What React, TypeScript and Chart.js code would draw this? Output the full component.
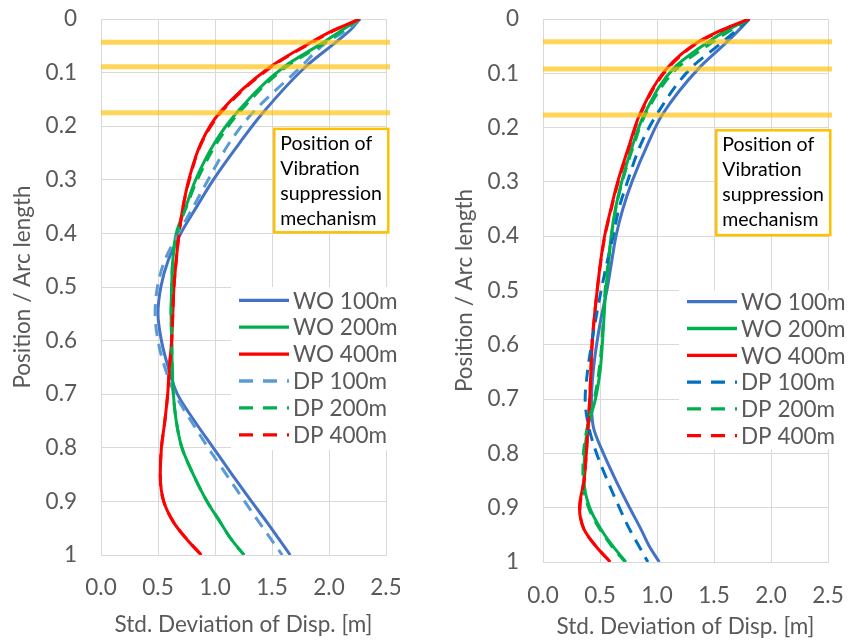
import React, { useEffect, useRef } from 'react';
import { Chart, registerables } from 'chart.js';

Chart.register(...registerables);

// ---------- data ----------
const POSITIONS = [0, 0.02, 0.045, 0.09, 0.175, 0.23, 0.3, 0.35, 0.4, 0.45, 0.5, 0.55, 0.6, 0.65, 0.7, 0.75, 0.8, 0.85, 0.9, 0.94, 0.97, 1];

const SERIES_LABELS = ['WO 100m', 'WO 200m', 'WO 400m', 'DP 100m', 'DP 200m', 'DP 400m'];

// Left chart
const LEFT_WO100 = [2.27, 2.19, 2.05, 1.79, 1.42, 1.22, 0.985, 0.84, 0.7, 0.59, 0.525, 0.5, 0.53, 0.59, 0.67, 0.82, 0.985, 1.15, 1.32, 1.46, 1.56, 1.66];
const LEFT_WO200 = [2.27, 2.12, 1.94, 1.6, 1.19, 1.0, 0.83, 0.745, 0.66, 0.63, 0.62, 0.615, 0.62, 0.625, 0.635, 0.66, 0.71, 0.81, 0.93, 1.05, 1.14, 1.255];
const LEFT_WO400 = [2.27, 2.05, 1.83, 1.48, 1.04, 0.88, 0.77, 0.72, 0.685, 0.66, 0.64, 0.63, 0.62, 0.6, 0.585, 0.56, 0.53, 0.52, 0.55, 0.64, 0.75, 0.88];
const LEFT_DP100 = [2.27, 2.16, 1.97, 1.75, 1.33, 1.13, 0.94, 0.81, 0.68, 0.56, 0.495, 0.475, 0.5, 0.56, 0.65, 0.79, 0.94, 1.1, 1.26, 1.39, 1.49, 1.59];
const LEFT_DP200 = [2.27, 2.13, 1.96, 1.62, 1.21, 1.02, 0.845, 0.75, 0.665, 0.63, 0.62, 0.615, 0.62, 0.625, 0.635, 0.66, 0.71, 0.81, 0.93, 1.05, 1.14, 1.255];
const LEFT_DP400 = [2.27, 2.06, 1.84, 1.49, 1.05, 0.885, 0.775, 0.72, 0.685, 0.66, 0.64, 0.63, 0.62, 0.6, 0.585, 0.56, 0.53, 0.52, 0.55, 0.64, 0.75, 0.88];

// Right chart
const RIGHT_WO100 = [1.81, 1.72, 1.6, 1.37, 1.05, 0.92, 0.78, 0.7, 0.64, 0.6, 0.56, 0.51, 0.47, 0.44, 0.425, 0.44, 0.53, 0.64, 0.76, 0.86, 0.93, 1.02];
const RIGHT_WO200 = [1.81, 1.62, 1.43, 1.15, 0.89, 0.79, 0.69, 0.635, 0.598, 0.575, 0.55, 0.535, 0.52, 0.5, 0.46, 0.395, 0.366, 0.36, 0.41, 0.51, 0.61, 0.726];
const RIGHT_WO400 = [1.81, 1.57, 1.34, 1.09, 0.85, 0.76, 0.655, 0.595, 0.54, 0.503, 0.475, 0.45, 0.43, 0.42, 0.41, 0.395, 0.38, 0.36, 0.32, 0.36, 0.46, 0.59];
const RIGHT_DP100 = [1.81, 1.7, 1.56, 1.3, 1.0, 0.86, 0.74, 0.665, 0.615, 0.56, 0.51, 0.465, 0.425, 0.39, 0.37, 0.4, 0.47, 0.565, 0.67, 0.76, 0.84, 0.92];
const RIGHT_DP200 = [1.81, 1.65, 1.47, 1.18, 0.9, 0.8, 0.695, 0.638, 0.6, 0.57, 0.545, 0.53, 0.515, 0.49, 0.45, 0.39, 0.355, 0.35, 0.4, 0.5, 0.6, 0.72];
const RIGHT_DP400 = [1.81, 1.58, 1.35, 1.1, 0.855, 0.765, 0.66, 0.598, 0.543, 0.505, 0.475, 0.45, 0.43, 0.42, 0.41, 0.395, 0.38, 0.36, 0.325, 0.36, 0.46, 0.59];

// Positions of the vibration suppression mechanism (Position / Arc length)
const MECH_LEFT = [0.0436, 0.089, 0.175];
const MECH_RIGHT = [0.042, 0.092, 0.177];

const NOTE_LINES = ['Position of', 'Vibration', 'suppression', 'mechanism'];

const X_TICKS = [0, 0.5, 1, 1.5, 2, 2.5];
const Y_TICKS = [0, 0.1, 0.2, 0.3, 0.4, 0.5, 0.6, 0.7, 0.8, 0.9, 1];

const X_TITLE = 'Std. Deviation of Disp. [m]';
const Y_TITLE = 'Position / Arc length';

// ---------- styling ----------
const FONT = 'Lato';
const TEXT = '#595959';
const GRID = '#D9D9D9';

type Panel = {
  series: number[][];
  colors: string[];
  mech: number[];
  canvasW: number;
  left: number;
  yAxisW: number;
  xAxisH: number;
  topPad: number;
  rightPad: number;
  yTitlePad: number;
  xTitlePad: number;
  xTickPad: number;
  legendW: number;
  legendTopPx: number;
  legendFirst: number;
  legendStep: number;
  noteFirst: number;
};

const LEFT_PANEL: Panel = {
  series: [LEFT_WO100, LEFT_WO200, LEFT_WO400, LEFT_DP100, LEFT_DP200, LEFT_DP400],
  colors: ['#4472C4', '#00B050', '#FF0000', '#5B9BD5', '#00B050', '#FF0000'],
  mech: MECH_LEFT,
  canvasW: 400,
  left: 0,
  yAxisW: 101,
  xAxisH: 87,
  topPad: 19,
  rightPad: 14,
  yTitlePad: 9,
  xTitlePad: 4,
  xTickPad: 19,
  legendW: 155,
  legendTopPx: 287,
  legendFirst: 13.3,
  legendStep: 26.9,
  noteFirst: 15,
};

const RIGHT_PANEL: Panel = {
  series: [RIGHT_WO100, RIGHT_WO200, RIGHT_WO400, RIGHT_DP100, RIGHT_DP200, RIGHT_DP400],
  colors: ['#4472C4', '#00B050', '#FF0000', '#0070C0', '#00B050', '#FF0000'],
  mech: MECH_RIGHT,
  canvasW: 422,
  left: 430,
  yAxisW: 113,
  xAxisH: 80,
  topPad: 19,
  rightPad: 24,
  yTitlePad: 21,
  xTitlePad: 2,
  xTickPad: 20,
  legendW: 149,
  legendTopPx: 290,
  legendFirst: 11.7,
  legendStep: 26.8,
  noteFirst: 14,
};

const NOTE_X = [1.52, 2.52];
const NOTE_Y = [0.205, 0.398];

function overlayPlugin(panel: Panel) {
  return {
    id: 'overlay',
    afterDraw(chart: any) {
      const { ctx, chartArea: a, scales } = chart;
      const xs = scales.x;
      const ys = scales.y;
      ctx.save();

      // mechanism lines
      ctx.strokeStyle = 'rgba(255, 192, 0, 0.65)';
      ctx.lineWidth = 5;
      panel.mech.forEach((p) => {
        const py = ys.getPixelForValue(p);
        ctx.beginPath();
        ctx.moveTo(a.left, py);
        ctx.lineTo(a.right + 4, py);
        ctx.stroke();
      });

      // note box
      const bx0 = xs.getPixelForValue(NOTE_X[0]);
      const bx1 = xs.getPixelForValue(NOTE_X[1]);
      const by0 = ys.getPixelForValue(NOTE_Y[0]);
      const by1 = ys.getPixelForValue(NOTE_Y[1]);
      ctx.fillStyle = '#FFFFFF';
      ctx.fillRect(bx0, by0, bx1 - bx0, by1 - by0);
      ctx.strokeStyle = '#FFC000';
      ctx.lineWidth = 2.5;
      ctx.strokeRect(bx0, by0, bx1 - bx0, by1 - by0);
      ctx.fillStyle = '#000000';
      ctx.font = `19.5px ${FONT}`;
      ctx.textBaseline = 'middle';
      ctx.textAlign = 'left';
      NOTE_LINES.forEach((t, i) => {
        ctx.fillText(t, bx0 + 6, by0 + panel.noteFirst + i * 25);
      });

      // legend
      const lx = a.right - panel.legendW;
      const ly = panel.legendTopPx;
      const ds = chart.data.datasets;
      const lh = panel.legendFirst * 2 + panel.legendStep * (ds.length - 1) + 2;
      ctx.fillStyle = '#FFFFFF';
      ctx.fillRect(lx, ly, a.right - lx + 1, lh);
      ctx.font = `22.5px ${FONT}`;
      ds.forEach((d: any, i: number) => {
        const cy = ly + panel.legendFirst + i * panel.legendStep;
        ctx.save();
        ctx.strokeStyle = d.borderColor;
        ctx.lineWidth = 3.3;
        ctx.setLineDash(d.borderDash && d.borderDash.length ? [14, 10] : []);
        ctx.beginPath();
        ctx.moveTo(lx + 8, cy);
        ctx.lineTo(lx + 58, cy);
        ctx.stroke();
        ctx.restore();
        ctx.fillStyle = TEXT;
        ctx.fillText(d.label, lx + 62, cy + 1);
      });
      ctx.restore();
    },
  };
}

function makeConfig(panel: Panel): any {
  const datasets = SERIES_LABELS.map((label, i) => ({
    label,
    data: POSITIONS.map((p, k) => ({ x: panel.series[i][k], y: p })),
    borderColor: panel.colors[i],
    backgroundColor: panel.colors[i],
    borderWidth: 3,
    borderDash: i >= 3 ? [12, 8] : [],
    pointRadius: 0,
    pointHoverRadius: 0,
    fill: false,
    cubicInterpolationMode: 'monotone',
    indexAxis: 'y',
    order: SERIES_LABELS.length - i,
  }));

  return {
    type: 'line',
    data: { datasets },
    options: {
      indexAxis: 'y',
      responsive: false,
      maintainAspectRatio: false,
      animation: false,
      devicePixelRatio: 1,
      events: [],
      layout: { padding: 0 },
      plugins: { legend: { display: false }, tooltip: { enabled: false } },
      scales: {
        x: {
          type: 'linear',
          position: 'bottom',
          min: X_TICKS[0],
          max: X_TICKS[X_TICKS.length - 1],
          afterBuildTicks: (s: any) => {
            s.ticks = X_TICKS.map((v) => ({ value: v }));
          },
          afterFit: (s: any) => {
            s.height = panel.xAxisH;
            s.paddingLeft = 0;
            s.paddingRight = panel.rightPad;
          },
          ticks: {
            color: TEXT,
            font: { family: FONT, size: 22.5 },
            padding: panel.xTickPad,
            maxRotation: 0,
            callback: (v: any) => Number(v).toFixed(1),
          },
          grid: { color: GRID, lineWidth: 1, drawTicks: false },
          border: { color: GRID, width: 1 },
          title: {
            display: true,
            text: X_TITLE,
            color: TEXT,
            font: { family: FONT, size: 22.5 },
            padding: { top: 0, bottom: panel.xTitlePad },
          },
        },
        y: {
          type: 'linear',
          position: 'left',
          reverse: true,
          min: Y_TICKS[0],
          max: Y_TICKS[Y_TICKS.length - 1],
          afterBuildTicks: (s: any) => {
            s.ticks = Y_TICKS.map((v) => ({ value: v }));
          },
          afterFit: (s: any) => {
            s.width = panel.yAxisW;
            s.paddingTop = panel.topPad;
            s.paddingBottom = 0;
          },
          ticks: {
            color: TEXT,
            font: { family: FONT, size: 22.5 },
            padding: 24,
            callback: (v: any) => String(parseFloat(Number(v).toFixed(1))),
          },
          grid: { color: GRID, lineWidth: 1, drawTicks: false },
          border: { color: GRID, width: 1 },
          title: {
            display: true,
            text: Y_TITLE,
            color: TEXT,
            font: { family: FONT, size: 22.5 },
            padding: { top: panel.yTitlePad, bottom: 0 },
          },
        },
      },
    },
    plugins: [overlayPlugin(panel)],
  };
}

function ChartPanel({ panel }: { panel: Panel }) {
  const ref = useRef<HTMLCanvasElement | null>(null);
  useEffect(() => {
    if (!ref.current) return;
    const chart = new Chart(ref.current, makeConfig(panel));
    return () => chart.destroy();
  }, [panel]);
  return (
    <canvas
      ref={ref}
      width={panel.canvasW}
      height={642}
      style={{ position: 'absolute', left: panel.left, top: 0, width: panel.canvasW, height: 642 }}
    />
  );
}

export default function App() {
  return (
    <div
      style={{
        position: 'absolute',
        left: 0,
        top: 0,
        width: 852,
        height: 642,
        background: '#FFFFFF',
        overflow: 'hidden',
      }}
    >
      <ChartPanel panel={LEFT_PANEL} />
      <ChartPanel panel={RIGHT_PANEL} />
    </div>
  );
}
